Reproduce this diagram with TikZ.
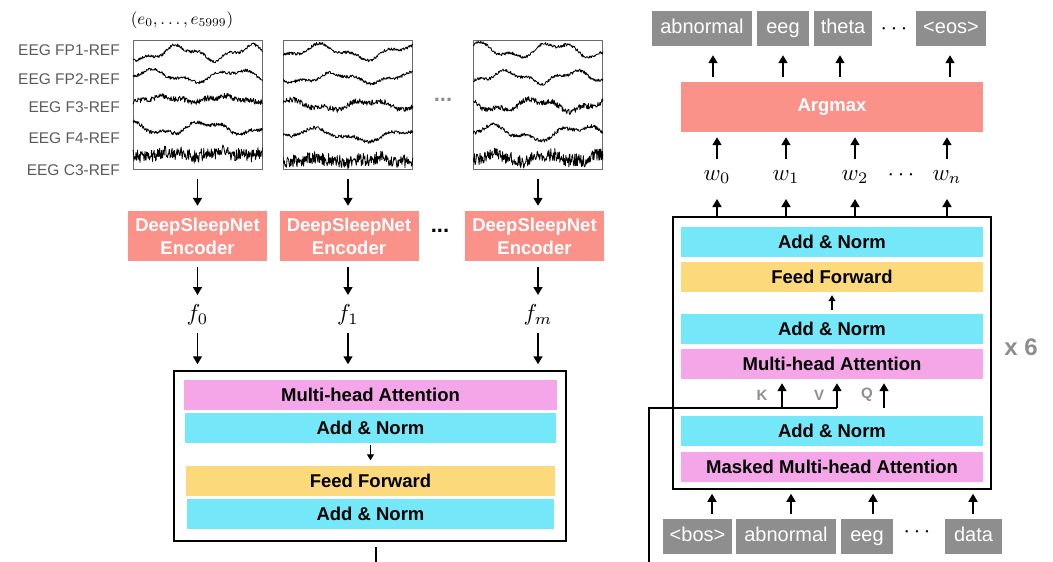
\documentclass[tikz,border=0pt]{standalone}
\usepackage[no-math]{fontspec}
\newfontfamily\hv{Liberation Sans}
\usetikzlibrary{arrows.meta}

\definecolor{addnorm}{HTML}{74E8F8}
\definecolor{ffwd}{HTML}{FCD97A}
\definecolor{mhatt}{HTML}{F5A6E8}
\definecolor{salmon}{HTML}{FA9289}
\definecolor{tokgray}{HTML}{8E8E8E}
\definecolor{lblgray}{HTML}{5A5A5A}
\definecolor{eeggray}{HTML}{6A6A6A}

% one noisy eeg channel: x0, y0, slow amp, noise amp, freq, phase
\newcommand\eegtrace[6]{%
  \draw[eegpen] plot[domain=0:130,samples=260]
    ({#1+\x},{#2+#3*sin(#5*\x+#6)+0.45*#3*sin(2.7*#5*\x+2*#6)+#4*rand});}

\begin{document}
\begin{tikzpicture}[x=1pt,y=-1pt]
                  \tikzstyle{every node}+=[inner sep=0pt]
                  \tikzstyle{arr}=[line width=1.6pt,-{Triangle[length=8pt,width=9pt]}]
                  \tikzstyle{wire}=[line width=1.6pt]
                  \tikzstyle{eegpen}=[line width=0.8pt,black,line join=round]
                  \tikzstyle{eegbox}=[draw=eeggray,line width=1pt,minimum width=129pt,minimum height=129pt]
                  \tikzstyle{chan}=[anchor=east,text=lblgray,font=\hv\fontsize{15.5}{17}\selectfont]
                  \tikzstyle{blk}=[minimum height=30pt,font=\hv\bfseries\fontsize{18.5}{20}\selectfont]
                  \tikzstyle{dsnbox}=[fill=salmon,text=white,minimum width=139pt,minimum height=50pt,align=center,font=\hv\bfseries\fontsize{18.5}{23}\selectfont]
                  \tikzstyle{tok}=[fill=tokgray,text=white,minimum height=35pt,text height=14pt,text depth=4pt,font=\hv\fontsize{20}{22}\selectfont]
                  \tikzstyle{mathlbl}=[scale=2.3]
                  \tikzstyle{kvq}=[text=tokgray,font=\hv\bfseries\fontsize{15}{16}\selectfont]
                  \pgfmathsetseed{11}
                  \useasboundingbox (0,0) rectangle (1053,562);
                  % left: eeg windows
                  \node[scale=1.7] (tup) at (182,20) {$(e_0,\ldots,e_{5999})$};
                  \node[chan] (c1) at (120,50) {EEG FP1-REF};
                  \node[chan] (c2) at (120,79) {EEG FP2-REF};
                  \node[chan] (c3) at (120,107) {EEG F3-REF};
                  \node[chan] (c4) at (120,138) {EEG F4-REF};
                  \node[chan] (c5) at (120,170) {EEG C3-REF};
                  \node[eegbox] (b1) at (197.5,104.5) {};
                  \node[eegbox] (b2) at (348,104.5) {};
                  \node[eegbox] (b3) at (538,104.5) {};
                  \node[text=tokgray,font=\hv\bfseries\fontsize{22}{22}\selectfont] (edots) at (443,100) {...};
                  \begin{scope}
                    \clip (b1.south west) rectangle (b1.north east);
                    \eegtrace{133}{53}{6}{1.5}{5}{40}
                    \eegtrace{133}{76}{5}{1.5}{4.2}{200}
                    \eegtrace{133}{99}{2.5}{2.8}{6}{90}
                    \eegtrace{133}{128}{5}{1.8}{4.6}{300}
                    \eegtrace{133}{154}{2}{6.5}{7}{10}
                  \end{scope}
                  \begin{scope}
                    \clip (b2.south west) rectangle (b2.north east);
                    \eegtrace{283}{52}{6}{1.5}{4}{120}
                    \eegtrace{283}{78}{4}{1.5}{4.8}{20}
                    \eegtrace{283}{105}{4}{2.8}{4.4}{250}
                    \eegtrace{283}{135}{5}{1.8}{3.6}{160}
                    \eegtrace{283}{160}{2}{6.5}{6}{70}
                  \end{scope}
                  \begin{scope}
                    \clip (b3.south west) rectangle (b3.north east);
                    \eegtrace{473}{50}{6}{1.5}{4.5}{260}
                    \eegtrace{473}{77}{5}{1.5}{5.2}{100}
                    \eegtrace{473}{105}{5}{2.8}{4.8}{330}
                    \eegtrace{473}{133}{6}{1.8}{4}{200}
                    \eegtrace{473}{158}{3}{6.5}{6.5}{140}
                  \end{scope}
                  % left: encoders
                  \node[dsnbox] (d1) at (197.5,236) {DeepSleepNet\\Encoder};
                  \node[dsnbox] (d2) at (349,236) {DeepSleepNet\\Encoder};
                  \node[dsnbox] (d3) at (534.5,236) {DeepSleepNet\\Encoder};
                  \node[font=\hv\bfseries\fontsize{22}{22}\selectfont] (ddots) at (440,231) {...};
                  \node[mathlbl] (f0) at (197.5,315) {$f_0$};
                  \node[mathlbl] (f1) at (348,315) {$f_1$};
                  \node[mathlbl] (fm) at (538,315) {$f_m$};
                  \draw[arr,shorten <=9pt,shorten >=5pt] (b1.south) -- (b1.south |- d1.north);
                  \draw[arr,shorten <=9pt,shorten >=5pt] (b2.south) -- (b2.south |- d2.north);
                  \draw[arr,shorten <=9pt,shorten >=5pt] (b3.south) -- (b3.south |- d3.north);
                  \draw[arr,shorten <=6pt,shorten >=20pt] (f0 |- d1.south) -- (f0.center);
                  \draw[arr,shorten <=6pt,shorten >=20pt] (f1 |- d2.south) -- (f1.center);
                  \draw[arr,shorten <=6pt,shorten >=20pt] (fm |- d3.south) -- (fm.center);
                  % left: fusion block
                  \node[draw,line width=1.5pt,minimum width=392pt,minimum height=170pt] (enc) at (370,456) {};
                  \node[blk,fill=mhatt,minimum width=373pt] (emha) at (370.5,394.5) {Multi-head Attention};
                  \node[blk,fill=addnorm,minimum width=371pt] (ean1) at (370.5,428) {Add \& Norm};
                  \node[blk,fill=ffwd,minimum width=369pt] (eff) at (370.5,480.5) {Feed Forward};
                  \node[blk,fill=addnorm,minimum width=367pt] (ean2) at (370.5,514) {Add \& Norm};
                  \draw[arr,shorten <=18pt,shorten >=6pt] (f0.center) -- (f0 |- enc.north);
                  \draw[arr,shorten <=18pt,shorten >=6pt] (f1.center) -- (f1 |- enc.north);
                  \draw[arr,shorten <=18pt,shorten >=6pt] (fm.center) -- (fm |- enc.north);
                  \draw[line width=1.2pt,-{Triangle[length=6pt,width=7pt]},shorten <=2pt,shorten >=5pt] (ean1.south) -- (eff.north);
                  \coordinate (encbot) at (376,547);
                  \coordinate (encout) at (376,562);
                  \draw[wire] (encbot) -- (encout);
                  % right: output tokens
                  \node[tok,minimum width=100pt] (oab) at (702,28.5) {abnormal};
                  \node[tok,minimum width=52pt] (oeeg) at (783,28.5) {eeg};
                  \node[tok,minimum width=58pt] (oth) at (843,28.5) {theta};
                  \node[tok,minimum width=70pt] (oeos) at (951,28.5) {<eos>};
                  \node[mathlbl] (odots) at (894,29) {$\cdots$};
                  \node[dsnbox,minimum width=302pt] (argmax) at (832,107) {Argmax};
                  \coordinate (ta0) at (713,0);
                  \coordinate (ta1) at (783,0);
                  \coordinate (ta2) at (840,0);
                  \coordinate (ta3) at (950,0);
                  \draw[arr,shorten <=5pt,shorten >=9pt] (ta0 |- argmax.north) -- (ta0 |- oab.south);
                  \draw[arr,shorten <=5pt,shorten >=9pt] (ta1 |- argmax.north) -- (ta1 |- oeeg.south);
                  \draw[arr,shorten <=5pt,shorten >=9pt] (ta2 |- argmax.north) -- (ta2 |- oth.south);
                  \draw[arr,shorten <=5pt,shorten >=9pt] (ta3 |- argmax.north) -- (ta3 |- oeos.south);
                  \node[mathlbl] (w0) at (717,177) {$w_0$};
                  \node[mathlbl] (w1) at (786,177) {$w_1$};
                  \node[mathlbl] (w2) at (855,177) {$w_2$};
                  \node[mathlbl] (wn) at (947,177) {$w_n$};
                  \node[mathlbl] (wdots) at (901,175) {$\cdots$};
                  \draw[arr,shorten <=18pt,shorten >=5pt] (w0.center) -- (w0 |- argmax.south);
                  \draw[arr,shorten <=18pt,shorten >=5pt] (w1.center) -- (w1 |- argmax.south);
                  \draw[arr,shorten <=18pt,shorten >=5pt] (w2.center) -- (w2 |- argmax.south);
                  \draw[arr,shorten <=18pt,shorten >=5pt] (wn.center) -- (wn |- argmax.south);
                  % right: decoder stack
                  \node[draw,line width=1.5pt,minimum width=318pt,minimum height=272pt] (dec) at (832,353) {};
                  \node[blk,fill=addnorm,minimum width=302pt] (dan3) at (832,242) {Add \& Norm};
                  \node[blk,fill=ffwd,minimum width=302pt] (dff) at (832,277) {Feed Forward};
                  \node[blk,fill=addnorm,minimum width=302pt] (dan2) at (832,329) {Add \& Norm};
                  \node[blk,fill=mhatt,minimum width=302pt] (dmha) at (832,364) {Multi-head Attention};
                  \node[blk,fill=addnorm,minimum width=302pt] (dan1) at (832,431) {Add \& Norm};
                  \node[blk,fill=mhatt,minimum width=302pt] (dmmha) at (832,466.5) {Masked Multi-head Attention};
                  \node[text=tokgray,font=\hv\bfseries\fontsize{24}{26}\selectfont] (rep) at (1021,347) {x 6};
                  \draw[arr,shorten >=22pt] (w0 |- dec.north) -- (w0.center);
                  \draw[arr,shorten >=22pt] (w1 |- dec.north) -- (w1.center);
                  \draw[arr,shorten >=22pt] (w2 |- dec.north) -- (w2.center);
                  \draw[arr,shorten >=22pt] (wn |- dec.north) -- (wn.center);
                  \draw[line width=1.2pt,-{Triangle[length=6pt,width=7pt]},shorten <=4pt,shorten >=3pt] (dan2.north) -- (dff.south);
                  % K, V from the encoder, Q from below
                  \coordinate (mem) at (649,562);
                  \coordinate (memup) at (649,408);
                  \coordinate (kin) at (782,408);
                  \coordinate (vin) at (837,408);
                  \coordinate (qin) at (884,408);
                  \draw[wire] (mem) -- (memup) -- (vin);
                  \draw[arr,shorten >=4pt] (kin) -- (kin |- dmha.south);
                  \draw[arr,shorten >=4pt] (vin) -- (vin |- dmha.south);
                  \draw[arr,shorten >=4pt] (qin) -- (qin |- dmha.south);
                  \node[kvq] (lk) at (762,395) {K};
                  \node[kvq] (lv) at (819,395) {V};
                  \node[kvq] (lq) at (867,395) {Q};
                  % right: input tokens
                  \node[tok,minimum width=69pt] (ibos) at (697.5,536.5) {<bos>};
                  \node[tok,minimum width=100pt] (iab) at (786,536.5) {abnormal};
                  \node[tok,minimum width=52pt] (ieeg) at (867,536.5) {eeg};
                  \node[tok,minimum width=57pt] (idata) at (973.5,536.5) {data};
                  \node[mathlbl] (idots) at (917,532) {$\cdots$};
                  \coordinate (ba0) at (712,0);
                  \coordinate (ba1) at (791,0);
                  \coordinate (ba2) at (873,0);
                  \coordinate (ba3) at (973,0);
                  \draw[arr,shorten <=5pt,shorten >=4pt] (ba0 |- ibos.north) -- (ba0 |- dec.south);
                  \draw[arr,shorten <=5pt,shorten >=4pt] (ba1 |- iab.north) -- (ba1 |- dec.south);
                  \draw[arr,shorten <=5pt,shorten >=4pt] (ba2 |- ieeg.north) -- (ba2 |- dec.south);
                  \draw[arr,shorten <=5pt,shorten >=4pt] (ba3 |- idata.north) -- (ba3 |- dec.south);
\end{tikzpicture}
\end{document}
